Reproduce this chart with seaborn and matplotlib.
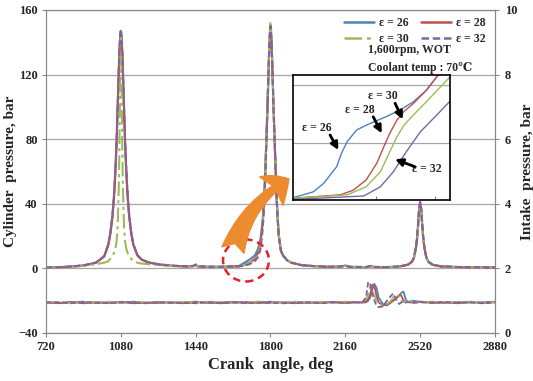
import pandas as pd
import seaborn as sns
import matplotlib.pyplot as plt
from matplotlib.lines import Line2D
from matplotlib.patches import Ellipse, FancyArrowPatch

# series names and colours
eps_names = ["ε = 26", "ε = 28", "ε = 30", "ε = 32"]
eps_colors = ["#4F81BD", "#C0504D", "#9BBB59", "#8064A2"]

# cylinder pressure (bar) vs crank angle (deg)
theta = [720, 760, 820, 900, 960, 1000, 1020, 1030, 1040, 1045,
         1050, 1055, 1060, 1065, 1070, 1073, 1077, 1080, 1083, 1087,
         1090, 1095, 1100, 1105, 1110, 1115, 1120, 1130, 1140, 1160,
         1180, 1210, 1260, 1330, 1400, 1430, 1440, 1450, 1500, 1560,
         1620, 1650, 1675, 1700, 1725, 1740, 1750, 1755, 1760, 1765,
         1770, 1775, 1780, 1785, 1790, 1795, 1800, 1805, 1810, 1815,
         1820, 1825, 1830, 1835, 1840, 1850, 1860, 1880, 1900, 1950,
         2000, 2080, 2140, 2160, 2180, 2260, 2280, 2300, 2360, 2420,
         2460, 2480, 2490, 2500, 2505, 2510, 2515, 2520, 2525, 2530,
         2535, 2540, 2550, 2560, 2580, 2620, 2700, 2780, 2880]

p_26 = [0.5, 0.6, 0.9, 1.8, 3.5, 7.5, 15, 22, 33, 41,
        51, 64, 80, 101, 122, 134, 144, 147, 144, 134,
        122, 101, 80, 64, 51, 41, 33, 22, 15, 8,
        5.5, 3.8, 2.5, 1.6, 1.2, 1.5, 2.3, 1.2, 1.0, 1.0,
        1.2, 1.6, 3.5, 5.5, 8, 12, 17, 21, 27, 35,
        45, 61, 79, 98, 119, 140, 149, 140, 119, 98,
        79, 60, 42, 30, 20, 11, 8, 5, 3.5, 2,
        1.5, 1.0, 1.2, 1.8, 1.0, 0.8, 1.5, 0.9, 0.8, 1.2,
        2.2, 4, 6.5, 13, 18, 26, 35, 39, 35, 26,
        18, 13, 6.5, 4, 2.2, 1.2, 0.8, 0.7, 0.6]

p_28 = [0.4, 0.6, 1.0, 1.7, 3.4, 7.3, 14.5, 21.5, 32, 40,
        50, 63, 79, 100, 121, 133, 142, 145, 142, 133,
        121, 100, 79, 63, 50, 40, 32, 21.5, 14.5, 8,
        5.4, 3.7, 2.4, 1.5, 1.1, 1.4, 2.1, 1.1, 0.9, 0.9,
        1.1, 1.3, 2.2, 3.5, 6, 9.5, 14.5, 19.5, 25.5, 33,
        44, 60, 79, 98, 120, 141, 150, 141, 120, 98,
        79, 60, 42, 30, 20, 11, 8, 5, 3.5, 2,
        1.4, 0.9, 1.1, 1.6, 0.9, 0.7, 1.4, 0.8, 0.7, 1.1,
        2.2, 4, 6.5, 13, 18.5, 27.5, 37, 41, 37, 27.5,
        18.5, 13, 6.5, 4, 2.2, 1.2, 0.8, 0.6, 0.5]

p_30 = [0.5, 0.5, 0.8, 1.5, 2.6, 3.5, 4.5, 6, 8, 9,
        10.5, 13, 17, 27, 50, 74, 122, 144, 122, 74,
        50, 27, 17, 13, 10.5, 9, 8, 6, 4.5, 3.5,
        3, 2.6, 2.0, 1.4, 1.1, 1.4, 2.0, 1.1, 0.9, 0.9,
        1.1, 1.3, 2.0, 3.2, 5.5, 8.5, 13, 17.5, 23.5, 32,
        43, 60, 80, 100, 122, 144, 153, 144, 122, 100,
        80, 61, 43, 31, 21, 11.5, 8, 5, 3.5, 2,
        1.4, 0.9, 1.1, 1.6, 0.9, 0.7, 1.4, 0.8, 0.7, 1.1,
        2.1, 3.8, 6.2, 12, 17, 25, 34, 38, 34, 25,
        17, 12, 6.2, 3.8, 2.1, 1.2, 0.8, 0.6, 0.5]

p_32 = [0.6, 0.7, 1.0, 1.9, 3.6, 7.6, 15, 22.5, 33.5, 41.5,
        52, 65, 81, 102, 123, 135, 145, 148, 145, 135,
        123, 102, 81, 65, 52, 41.5, 33.5, 22.5, 15, 8.2,
        5.6, 3.9, 2.6, 1.7, 1.3, 1.6, 2.4, 1.3, 1.1, 1.0,
        1.2, 1.2, 1.8, 2.6, 4.5, 7, 11, 15, 21, 29,
        40, 57, 77, 97, 119, 140, 150, 140, 119, 97,
        78, 60, 42, 30, 20, 11, 8, 5, 3.5, 2,
        1.5, 1.0, 1.2, 1.8, 1.0, 0.8, 1.5, 0.9, 0.8, 1.2,
        2.3, 4.1, 6.6, 13.5, 19, 28, 37.5, 41, 37.5, 28,
        19, 13.5, 6.6, 4.1, 2.3, 1.3, 0.9, 0.7, 0.6]

# intake pressure (bar)
theta_in = [720, 780, 840, 900, 960, 1020, 1080, 1140, 1200, 1260,
            1320, 1380, 1440, 1500, 1560, 1620, 1680, 1740, 1800, 1860,
            1920, 1980, 2040, 2100, 2160, 2200, 2240, 2260, 2270, 2280,
            2290, 2300, 2310, 2320, 2340, 2360, 2380, 2390, 2400, 2410,
            2420, 2430, 2440, 2450, 2460, 2480, 2520, 2580, 2640, 2700,
            2760, 2820, 2880]

pin_26 = [0.96, 0.92, 0.95, 0.97, 0.93, 0.95, 0.94, 0.97, 0.93, 0.96,
          0.94, 0.95, 0.97, 0.93, 0.95, 0.96, 0.93, 0.95, 0.97, 0.94,
          0.95, 0.93, 0.96, 0.94, 0.95, 0.96, 0.94, 0.95, 1.0, 1.1,
          1.35, 1.52, 1.4, 1.1, 0.9, 0.85, 0.95, 1.0, 1.05, 1.1,
          1.15, 1.25, 1.28, 1.05, 0.95, 1.0, 0.97, 0.95, 0.93, 0.96,
          0.94, 0.95, 0.97]
pin_28 = [0.94, 0.93, 0.96, 0.92, 0.95, 0.93, 0.96, 0.92, 0.94, 0.93,
          0.95, 0.92, 0.94, 0.95, 0.92, 0.94, 0.96, 0.93, 0.94, 0.95,
          0.92, 0.95, 0.93, 0.96, 0.93, 0.94, 0.95, 0.97, 1.05, 1.2,
          1.5, 1.45, 1.15, 0.95, 0.85, 0.88, 0.95, 1.0, 1.05, 1.12,
          1.18, 1.15, 1.0, 0.95, 0.97, 0.94, 0.96, 0.93, 0.95, 0.92,
          0.96, 0.93, 0.95]
pin_30 = [0.95, 0.96, 0.93, 0.96, 0.95, 0.97, 0.93, 0.96, 0.95, 0.97,
          0.93, 0.96, 0.95, 0.97, 0.96, 0.93, 0.95, 0.97, 0.95, 0.96,
          0.97, 0.95, 0.96, 0.93, 0.97, 0.95, 0.96, 1.05, 1.2, 1.42,
          1.3, 1.15, 1.0, 0.9, 0.85, 0.9, 1.0, 1.1, 1.18, 1.2,
          1.1, 1.0, 0.95, 0.97, 0.96, 0.98, 0.95, 0.97, 0.94, 0.96,
          0.97, 0.94, 0.96]
pin_32 = [0.94, 0.95, 0.92, 0.95, 0.94, 0.92, 0.95, 0.94, 0.92, 0.95,
          0.93, 0.94, 0.92, 0.95, 0.93, 0.95, 0.92, 0.94, 0.93, 0.92,
          0.94, 0.95, 0.92, 0.95, 0.93, 0.95, 0.94, 1.1, 1.58, 1.5,
          1.2, 1.0, 0.85, 0.8, 0.82, 1.0, 1.15, 1.22, 1.1, 0.95,
          0.9, 0.95, 0.97, 0.94, 0.96, 0.93, 0.95, 0.94, 0.96, 0.93,
          0.95, 0.92, 0.94]

# zoomed view of the early pressure rise (inset)
zx_26 = [1630, 1647, 1656, 1667, 1671, 1676, 1684, 1695, 1709, 1721, 1732, 1743, 1752, 1763]
zp_26 = [0.4, 1.4, 2.9, 5.8, 8.1, 10.2, 12.2, 13.3, 14.5, 15.7, 17.1, 19.1, 21.5, 24]
zx_28 = [1630, 1670, 1681, 1692, 1701, 1707, 1712, 1718, 1724, 1732, 1743, 1753, 1763]
zp_28 = [0.3, 0.9, 1.7, 3.5, 6.4, 9.3, 11.6, 13.9, 15.4, 16.8, 19.1, 21.75, 24]
zx_30 = [1630, 1676, 1692, 1704, 1712, 1718, 1724, 1732, 1743, 1755, 1762, 1763]
zp_30 = [0.3, 0.9, 2.3, 4.9, 8.4, 11, 13, 14.8, 17.1, 19.7, 21.2, 21.5]
zx_32 = [1630, 1690, 1704, 1715, 1726, 1738, 1749, 1757, 1763]
zp_32 = [0.1, 0.7, 2.3, 4.9, 8.4, 11.9, 14.2, 15.9, 17.2]

cyl = pd.concat([pd.DataFrame({"theta": theta, "p": v, "eps": n})
                 for n, v in zip(eps_names, [p_26, p_28, p_30, p_32])])
intake = pd.concat([pd.DataFrame({"theta": theta_in, "p": v, "eps": n})
                    for n, v in zip(eps_names, [pin_26, pin_28, pin_30, pin_32])])
zoom = pd.concat([pd.DataFrame({"theta": x, "p": v, "eps": n})
                  for n, x, v in zip(eps_names, [zx_26, zx_28, zx_30, zx_32],
                                     [zp_26, zp_28, zp_30, zp_32])])

palette = dict(zip(eps_names, eps_colors))
dashes = {"ε = 26": "", "ε = 28": "", "ε = 30": (7, 2, 1.5, 2), "ε = 32": (3, 1.5)}

sns.set_style("white")
plt.rcParams["font.family"] = ["Liberation Serif", "DejaVu Serif"]
plt.rcParams["font.weight"] = "bold"
plt.rcParams["axes.labelweight"] = "bold"

fig = plt.figure(figsize=(5.33, 3.81), dpi=100)
ax = fig.add_axes([0.0863, 0.126, 0.8424, 0.848])

sns.lineplot(data=cyl, x="theta", y="p", hue="eps", style="eps", hue_order=eps_names,
             style_order=eps_names, palette=palette, dashes=dashes, estimator=None,
             lw=1.5, legend=False, ax=ax)
ax.set_xlim(720, 2880)
ax.set_ylim(-40, 160)
ax.set_xticks(range(720, 2881, 360))
ax.set_yticks(range(-40, 161, 40))
ax.yaxis.grid(True, color="#a6a6a6", lw=0.9)
ax.set_axisbelow(True)
ax.set_xlabel("Crank  angle, deg", fontsize=12, labelpad=3)
ax.set_ylabel("Cylinder  pressure, bar", fontsize=11, labelpad=1)
ax.tick_params(labelsize=9, length=3, color="#888888", pad=3, bottom=True, left=True)
for s in ax.spines.values():
    s.set_color("#888888")

ax2 = ax.twinx()
sns.lineplot(data=intake, x="theta", y="p", hue="eps", style="eps", hue_order=eps_names,
             style_order=eps_names, palette=palette, dashes=dashes, estimator=None,
             lw=1.3, legend=False, ax=ax2)
ax2.set_ylim(0, 10)
ax2.set_yticks(range(0, 11, 2))
ax2.set_ylabel("Intake  pressure, bar", fontsize=11, labelpad=3)
ax2.tick_params(labelsize=9, length=3, color="#888888", pad=4, right=True)
for s in ax2.spines.values():
    s.set_color("#888888")

# legend (row-wise: 26, 28 / 30, 32) + conditions
order = [0, 2, 1, 3]
handles = [Line2D([], [], color=palette[eps_names[i]], lw=1.8,
                  linestyle=(0, dashes[eps_names[i]]) if dashes[eps_names[i]] else "-")
           for i in order]
ax2.legend(handles, [eps_names[i] for i in order], loc="upper right",
           bbox_to_anchor=(0.995, 1.0), ncol=2, frameon=False,
           prop={"weight": "bold", "size": 8.5}, handlelength=2.6,
           columnspacing=1.0, handletextpad=0.4, labelspacing=0.35, borderaxespad=0.2)
ax2.text(0.717, 0.876, "1,600rpm, WOT", transform=ax.transAxes, fontsize=8.5,
         fontweight="bold", va="center")
ax2.text(0.717, 0.82, "Coolant temp : 70℃", transform=ax.transAxes, fontsize=8.5,
         fontweight="bold", va="center")

# red dashed circle on the early rise
ax.add_patch(Ellipse((1682, 4.9), width=221, height=26, fill=False, edgecolor="#E8202A",
                     lw=1.8, ls=(0, (3, 2)), zorder=5))

# orange arrow pointing at the inset
fig.patches.append(FancyArrowPatch((233 / 533, 131 / 381), (289 / 533, 202 / 381),
                                   transform=fig.transFigure, figure=fig,
                                   connectionstyle="arc3,rad=-0.2",
                                   arrowstyle="fancy,head_length=0.7,head_width=1.2,tail_width=0.75",
                                   mutation_scale=22, color="#ED8B2F", shrinkA=0, shrinkB=0,
                                   zorder=3))

# inset
axin = fig.add_axes([293 / 533, 181 / 381, 157 / 533, 125 / 381], zorder=10)
axin.set_facecolor("white")
sns.lineplot(data=zoom, x="theta", y="p", hue="eps", hue_order=eps_names, palette=palette,
             estimator=None, lw=1.0, legend=False, ax=axin)
axin.set_xlim(1630, 1763)
axin.set_ylim(0, 21.75)
axin.set_xticks([1700, 1750])
axin.set_yticks([10, 20])
axin.yaxis.grid(True, color="#a6a6a6", lw=0.9)
axin.set_xticklabels([])
axin.set_yticklabels([])
axin.set_xlabel("")
axin.set_ylabel("")
axin.tick_params(bottom=True, left=False, direction="in", length=3, color="#888888")
for s in axin.spines.values():
    s.set_color("black")
    s.set_linewidth(1.2)

arrow_kw = dict(arrowstyle="-|>", color="black", lw=2.0, mutation_scale=11, shrinkA=0, shrinkB=0)
labels_in = [("ε = 26", (0.151, 0.574), (0.236, 0.52), (0.289, 0.40)),
             ("ε = 28", (0.427, 0.72), (0.511, 0.666), (0.565, 0.534)),
             ("ε = 30", (0.575, 0.832), (0.65, 0.774), (0.699, 0.646)),
             ("ε = 32", (0.852, 0.246), (0.777, 0.266), (0.65, 0.326))]
for txt, tpos, tail, head in labels_in:
    axin.text(*tpos, txt, transform=axin.transAxes, fontsize=8.5, fontweight="bold",
              ha="center", va="center")
    axin.annotate("", xy=head, xytext=tail, xycoords="axes fraction",
                  textcoords="axes fraction", arrowprops=arrow_kw)

fig.savefig("out.png", dpi=100)
